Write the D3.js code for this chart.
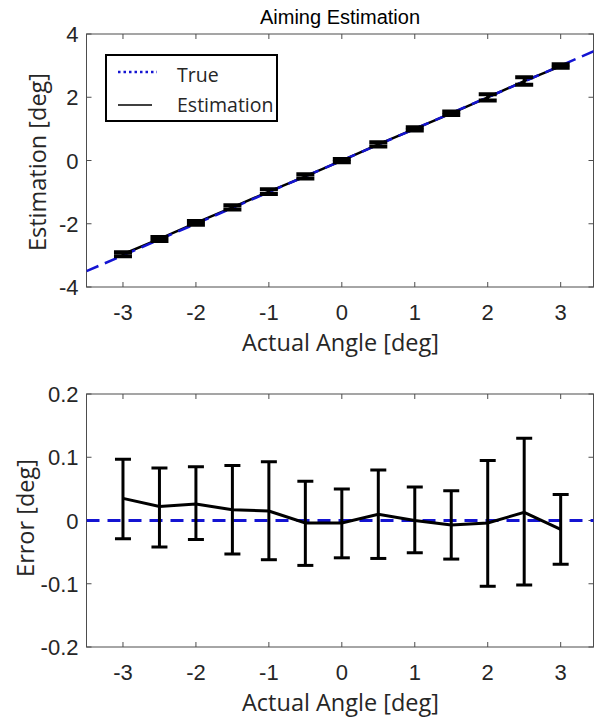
<!DOCTYPE html>
<html><head><meta charset="utf-8">
<script src="https://cdn.jsdelivr.net/npm/d3@7/dist/d3.min.js"></script>
<style>body{margin:0;background:#fff}svg{display:block}</style>
</head><body>
<svg id="chart" width="595" height="722"></svg>
<script>
// ---- data ----
const angles = [-3, -2.5, -2, -1.5, -1, -0.5, 0, 0.5, 1, 1.5, 2, 2.5, 3];
const errMean = [0.035, 0.022, 0.026, 0.017, 0.015, -0.004, -0.004, 0.010, 0.000, -0.007, -0.004, 0.013, -0.014];
const errUpper = [0.097, 0.083, 0.085, 0.087, 0.093, 0.062, 0.050, 0.080, 0.053, 0.047, 0.095, 0.130, 0.041];
const errLower = [-0.029, -0.042, -0.030, -0.053, -0.062, -0.071, -0.059, -0.060, -0.051, -0.061, -0.104, -0.102, -0.069];
const trueRange = [-3.5, 3.5];
const xTicks = [-3, -2, -1, 0, 1, 2, 3];
const yTicksTop = [-4, -2, 0, 2, 4];
const yTicksBottom = [-0.2, -0.1, 0, 0.1, 0.2];

const svg = d3.select("#chart");
const axisColor = "#4d4d4d";
const textColor = "#262626";
const tickFont = "'Liberation Sans', Arial, sans-serif";
const labelFont = "'Open Sans', 'Noto Sans', sans-serif";
const tickSize = 22, labelSize = 23.5;

const L = 86.5, R = 593.5;
const x = d3.scaleLinear().domain([-3.5, 3.45]).range([L, R]);

function panel(pTop, pBottom, yDomain, yTicks, id) {
  const y = d3.scaleLinear().domain(yDomain).range([pBottom, pTop]);
  const g = svg.append("g");
  g.append("clipPath").attr("id", id).append("rect")
    .attr("x", L).attr("y", pTop).attr("width", R - L).attr("height", pBottom - pTop);
  g.append("rect").attr("x", L).attr("y", pTop).attr("width", R - L).attr("height", pBottom - pTop)
    .attr("fill", "none").attr("stroke", axisColor).attr("stroke-width", 1);
  const tl = 5;
  xTicks.forEach(t => {
    g.append("line").attr("x1", x(t)).attr("x2", x(t)).attr("y1", pBottom).attr("y2", pBottom - tl)
      .attr("stroke", axisColor);
    g.append("line").attr("x1", x(t)).attr("x2", x(t)).attr("y1", pTop).attr("y2", pTop + tl)
      .attr("stroke", axisColor);
    g.append("text").attr("x", x(t)).attr("y", pBottom + 33).attr("text-anchor", "middle")
      .attr("font-family", tickFont).attr("font-size", tickSize).attr("fill", textColor)
      .text(String(t));
  });
  yTicks.forEach(t => {
    g.append("line").attr("x1", L).attr("x2", L + tl).attr("y1", y(t)).attr("y2", y(t))
      .attr("stroke", axisColor);
    g.append("line").attr("x1", R).attr("x2", R - tl).attr("y1", y(t)).attr("y2", y(t))
      .attr("stroke", axisColor);
    g.append("text").attr("x", L - 8).attr("y", y(t) + 8).attr("text-anchor", "end")
      .attr("font-family", tickFont).attr("font-size", tickSize).attr("fill", textColor)
      .text(String(t));
  });
  g.append("text").attr("x", 340.5).attr("y", pBottom + 64).attr("text-anchor", "middle")
    .attr("font-family", labelFont).attr("font-size", labelSize).attr("fill", textColor)
    .text("Actual Angle [deg]");
  return {g, y};
}

// ---- top panel ----
const topPanel = panel(34, 287, [-4, 4], yTicksTop, "clipTop");
const yT = topPanel.y;
const est = angles.map((a, i) => a + errMean[i]);
const estLo = angles.map((a, i) => a + errLower[i]);
const estHi = angles.map((a, i) => a + errUpper[i]);
const gt = topPanel.g.append("g").attr("clip-path", "url(#clipTop)");
gt.append("path").datum(angles.map((a, i) => [a, est[i]]))
  .attr("d", d3.line().x(d => x(d[0])).y(d => yT(d[1])))
  .attr("fill", "none").attr("stroke", "#000").attr("stroke-width", 2.5);
gt.append("path").datum(trueRange.map(v => [v, v]))
  .attr("d", d3.line().x(d => x(d[0])).y(d => yT(d[1])))
  .attr("fill", "none").attr("stroke", "#1414d2").attr("stroke-width", 2.5)
  .attr("stroke-dasharray", "13,7");
angles.forEach((a, i) => {
  const cx = x(a);
  gt.append("line").attr("x1", cx).attr("x2", cx).attr("y1", yT(estLo[i])).attr("y2", yT(estHi[i]))
    .attr("stroke", "#000").attr("stroke-width", 3);
  [estLo[i], estHi[i]].forEach(v => {
    gt.append("line").attr("x1", cx - 9).attr("x2", cx + 9).attr("y1", yT(v)).attr("y2", yT(v))
      .attr("stroke", "#000").attr("stroke-width", 4);
  });
});
svg.append("text").attr("x", 340).attr("y", 24).attr("text-anchor", "middle")
  .attr("font-family", tickFont).attr("font-size", 20).attr("fill", "#000")
  .text("Aiming Estimation");
svg.append("text").attr("transform", `translate(46,162) rotate(-90)`).attr("text-anchor", "middle")
  .attr("font-family", labelFont).attr("font-size", labelSize).attr("fill", textColor)
  .text("Estimation [deg]");
// legend
const lg = svg.append("g");
lg.append("rect").attr("x", 106).attr("y", 55).attr("width", 171).attr("height", 66)
  .attr("fill", "#fff").attr("stroke", "#000").attr("stroke-width", 2);
lg.append("line").attr("x1", 118).attr("x2", 157).attr("y1", 72).attr("y2", 72)
  .attr("stroke", "#1414d2").attr("stroke-width", 2.5).attr("stroke-dasharray", "2.5,3");
lg.append("line").attr("x1", 118).attr("x2", 152).attr("y1", 105).attr("y2", 105)
  .attr("stroke", "#000").attr("stroke-width", 1.5);
lg.append("text").attr("x", 177).attr("y", 82).attr("font-family", labelFont).attr("font-size", 19.5)
  .attr("fill", textColor).text("True");
lg.append("text").attr("x", 177).attr("y", 112).attr("font-family", labelFont).attr("font-size", 19.5)
  .attr("fill", textColor).text("Estimation");

// ---- bottom panel ----
const botPanel = panel(394, 647, [-0.2, 0.2], yTicksBottom, "clipBot");
const yB = botPanel.y;
const gb = botPanel.g.append("g").attr("clip-path", "url(#clipBot)");
gb.append("line").attr("x1", x(-3.5)).attr("x2", x(3.5)).attr("y1", yB(0)).attr("y2", yB(0))
  .attr("stroke", "#1414d2").attr("stroke-width", 3).attr("stroke-dasharray", "13,8");
angles.forEach((a, i) => {
  const cx = x(a);
  gb.append("line").attr("x1", cx).attr("x2", cx).attr("y1", yB(errLower[i])).attr("y2", yB(errUpper[i]))
    .attr("stroke", "#000").attr("stroke-width", 3);
  [errLower[i], errUpper[i]].forEach(v => {
    gb.append("line").attr("x1", cx - 8).attr("x2", cx + 8).attr("y1", yB(v)).attr("y2", yB(v))
      .attr("stroke", "#000").attr("stroke-width", 3);
  });
});
gb.append("path").datum(angles.map((a, i) => [a, errMean[i]]))
  .attr("d", d3.line().x(d => x(d[0])).y(d => yB(d[1])))
  .attr("fill", "none").attr("stroke", "#000").attr("stroke-width", 3);
svg.append("text").attr("transform", `translate(34,518) rotate(-90)`).attr("text-anchor", "middle")
  .attr("font-family", labelFont).attr("font-size", labelSize).attr("fill", textColor)
  .text("Error [deg]");
</script>
</body></html>
